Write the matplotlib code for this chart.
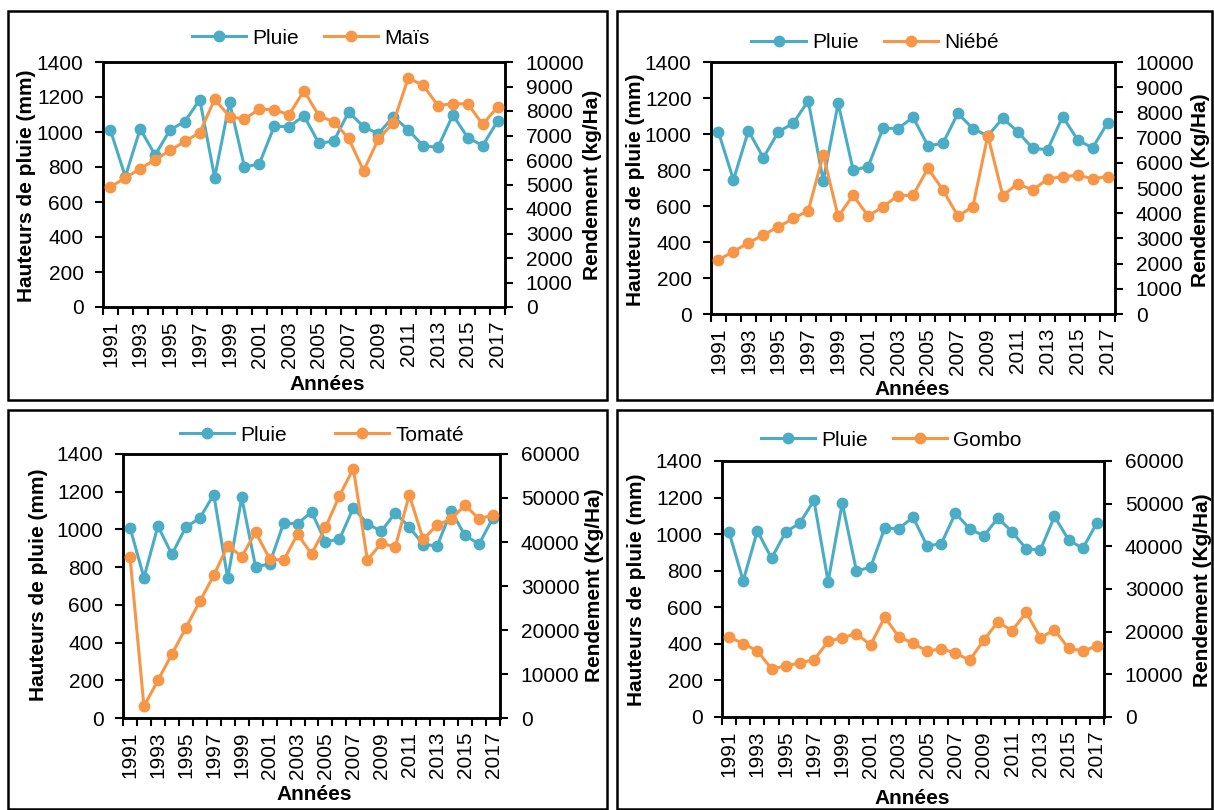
import matplotlib
matplotlib.use("Agg")
import matplotlib.pyplot as plt
from matplotlib.patches import Rectangle
import numpy as np

plt.rcParams['font.family'] = ['Liberation Sans', 'DejaVu Sans']

years = list(range(1991, 2018))
pluie = [1010, 745, 1018, 868, 1012, 1060, 1185, 740, 1170, 800, 818, 1033, 1030, 1093,
         935, 948, 1115, 1030, 990, 1088, 1013, 920, 913, 1097, 968, 922, 1062]
mais = [4900, 5270, 5650, 6010, 6390, 6760, 7120, 8480, 7770, 7670, 8080, 8050, 7850, 8830,
        7800, 7560, 6880, 5560, 6860, 7520, 9350, 9050, 8220, 8300, 8290, 7460, 8160]
niebe = [2150, 2480, 2820, 3140, 3460, 3790, 4100, 6320, 3870, 4710, 3890, 4260, 4700, 4710,
         5780, 4920, 3880, 4260, 7080, 4700, 5170, 4920, 5360, 5450, 5510, 5370, 5450]
tomate = [36700, 2650, 8560, 14500, 20500, 26500, 32400, 39200, 36700, 42200, 36200, 35800,
          41800, 37300, 43300, 50500, 56700, 35900, 39700, 38900, 50700, 40600, 43900, 45200,
          48400, 45200, 46200]
gombo = [18750, 17200, 15500, 11300, 11950, 12700, 13400, 17700, 18600, 19500, 16900, 23400,
         18800, 17300, 15400, 16000, 15000, 13300, 18000, 22300, 20200, 24500, 18600, 20400,
         16100, 15500, 16600]

W, H = 1214, 810
BLUE = '#4BACC6'
ORANGE = '#F79646'
FS = 15

fig = plt.figure(figsize=(W / 100, H / 100), dpi=100)

def fx(x):
    return x / W

def fy(y):
    return 1 - y / H

panels = [
    dict(ax=(103, 62, 505, 307), crop=mais, name='Maïs', rmax=10000, rstep=1000,
         rlabel='Rendement (kg/Ha)', box=(8, 11, 607, 400),
         lyl=(27, 186), ryl=(592, 185), xl=(327, 384), leg=(311, 38), cs=1.2),
    dict(ax=(711, 62, 1115, 314), crop=niebe, name='Niébé', rmax=10000, rstep=1000,
         rlabel='Rendement (Kg/Ha)', box=(617, 11, 1212, 400),
         lyl=(635, 190), ryl=(1201, 190), xl=(912, 390), leg=(875, 43), cs=1.2),
    dict(ax=(123, 454, 500, 718), crop=tomate, name='Tomaté', rmax=60000, rstep=10000,
         rlabel='Rendement (Kg/Ha)', box=(8, 410, 607, 809),
         lyl=(39, 585), ryl=(594, 585), xl=(314, 795), leg=(322, 435), cs=2.3),
    dict(ax=(722, 461, 1104, 717), crop=gombo, name='Gombo', rmax=60000, rstep=10000,
         rlabel='Rendement (Kg/Ha)', box=(617, 410, 1212, 809),
         lyl=(637, 590), ryl=(1203, 590), xl=(912, 798), leg=(891, 440), cs=1.2),
]

for p in panels:
    l, t, r, b = p['ax']
    ax = fig.add_axes([fx(l), fy(b), (r - l) / W, (b - t) / H])
    ax2 = ax.twinx()
    l1, = ax.plot(years, pluie, color=BLUE, lw=2.2, marker='o', ms=7.5, zorder=3)
    l2, = ax2.plot(years, p['crop'], color=ORANGE, lw=2.2, marker='o', ms=7.5, zorder=3)
    ax.set_xlim(1990.5, 2017.5)
    ax.set_ylim(0, 1400)
    ax.set_yticks(np.arange(0, 1401, 200))
    ax2.set_ylim(0, p['rmax'])
    ax2.set_yticks(np.arange(0, p['rmax'] + 1, p['rstep']))
    ax.set_xticks(years[::2])
    ax.set_xticklabels([str(y) for y in years[::2]], rotation=90)
    ax.set_xticks(np.arange(1990.5, 2018, 1), minor=True)
    ax.tick_params(axis='x', which='major', length=0, pad=10, labelsize=FS)
    ax.tick_params(axis='x', which='minor', length=6, width=1.5, direction='out')
    ax.tick_params(axis='y', length=6, width=1.5, direction='out', pad=8, labelsize=FS)
    ax2.tick_params(axis='y', length=6, width=1.5, direction='out', pad=9, labelsize=FS)
    for a in (ax, ax2):
        for s in a.spines.values():
            s.set_linewidth(1.8)
    fig.text(fx(p['lyl'][0]), fy(p['lyl'][1]), 'Hauteurs de pluie (mm)', rotation=90,
             ha='center', va='center', fontsize=FS, fontweight='bold')
    fig.text(fx(p['ryl'][0]), fy(p['ryl'][1]), p['rlabel'], rotation=90,
             ha='center', va='center', fontsize=FS, fontweight='bold')
    fig.text(fx(p['xl'][0]), fy(p['xl'][1]), 'Années', ha='center', va='center',
             fontsize=FS, fontweight='bold')
    fig.legend([l1, l2], ['Pluie', p['name']], loc='center',
               bbox_to_anchor=(fx(p['leg'][0]), fy(p['leg'][1])), ncol=2, frameon=False,
               fontsize=FS, handlelength=2.6, handletextpad=0.3, columnspacing=p['cs'],
               borderaxespad=0, borderpad=0)
    bl, bt, br, bb = p['box']
    fig.patches.append(Rectangle((fx(bl), fy(bb)), (br - bl) / W, (bb - bt) / H,
                                 transform=fig.transFigure, fill=False, lw=1.8,
                                 edgecolor='black', zorder=10))

fig.savefig('out.png', dpi=100)
